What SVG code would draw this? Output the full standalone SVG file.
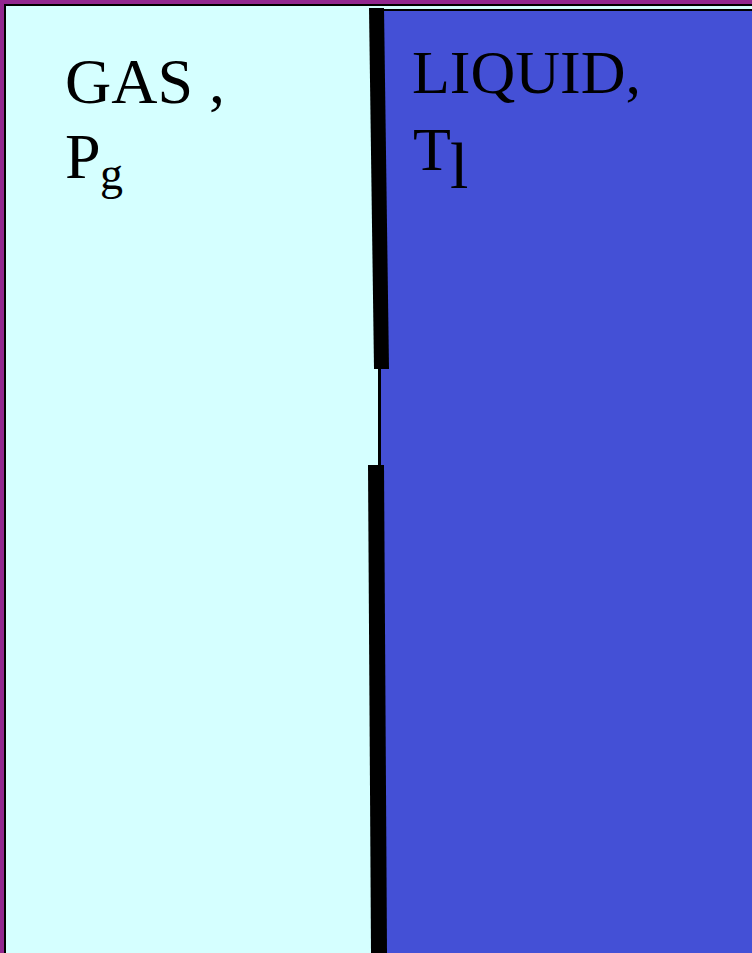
<svg xmlns="http://www.w3.org/2000/svg" width="752" height="953" viewBox="0 0 752 953">
<style>
.t{font-family:"Liberation Serif","Times New Roman",serif;fill:#000}
.bar{fill:#000}
</style>
<rect x="0" y="0" width="752" height="953" fill="#92268F"/>
<g id="gas">
<rect x="5" y="5" width="760" height="960" fill="#D5FFFF" stroke="#000" stroke-width="2"/>
<text class="t" x="65" y="103" font-size="64">GAS ,</text>
<text class="t" x="65" y="178" font-size="64">P</text>
<text class="t" x="100" y="189" font-size="46">g</text>
</g>
<g id="liquid">
<rect x="380" y="10" width="380" height="960" fill="#4450D6" stroke="#000" stroke-width="2"/>
<text class="t" x="412" y="93" font-size="62">LIQUID,</text>
<text class="t" x="413" y="170" font-size="62">T</text>
<text class="t" x="450" y="188" font-size="66">l</text>
</g>
<g id="membrane">
<polygon class="bar" points="369,8 384,8 389,369 374,369"/>
<line x1="379" y1="369" x2="379" y2="466" stroke="#000" stroke-width="2"/>
<polygon class="bar" points="368,465 384,465 387,953 371,953"/>
</g>
</svg>
